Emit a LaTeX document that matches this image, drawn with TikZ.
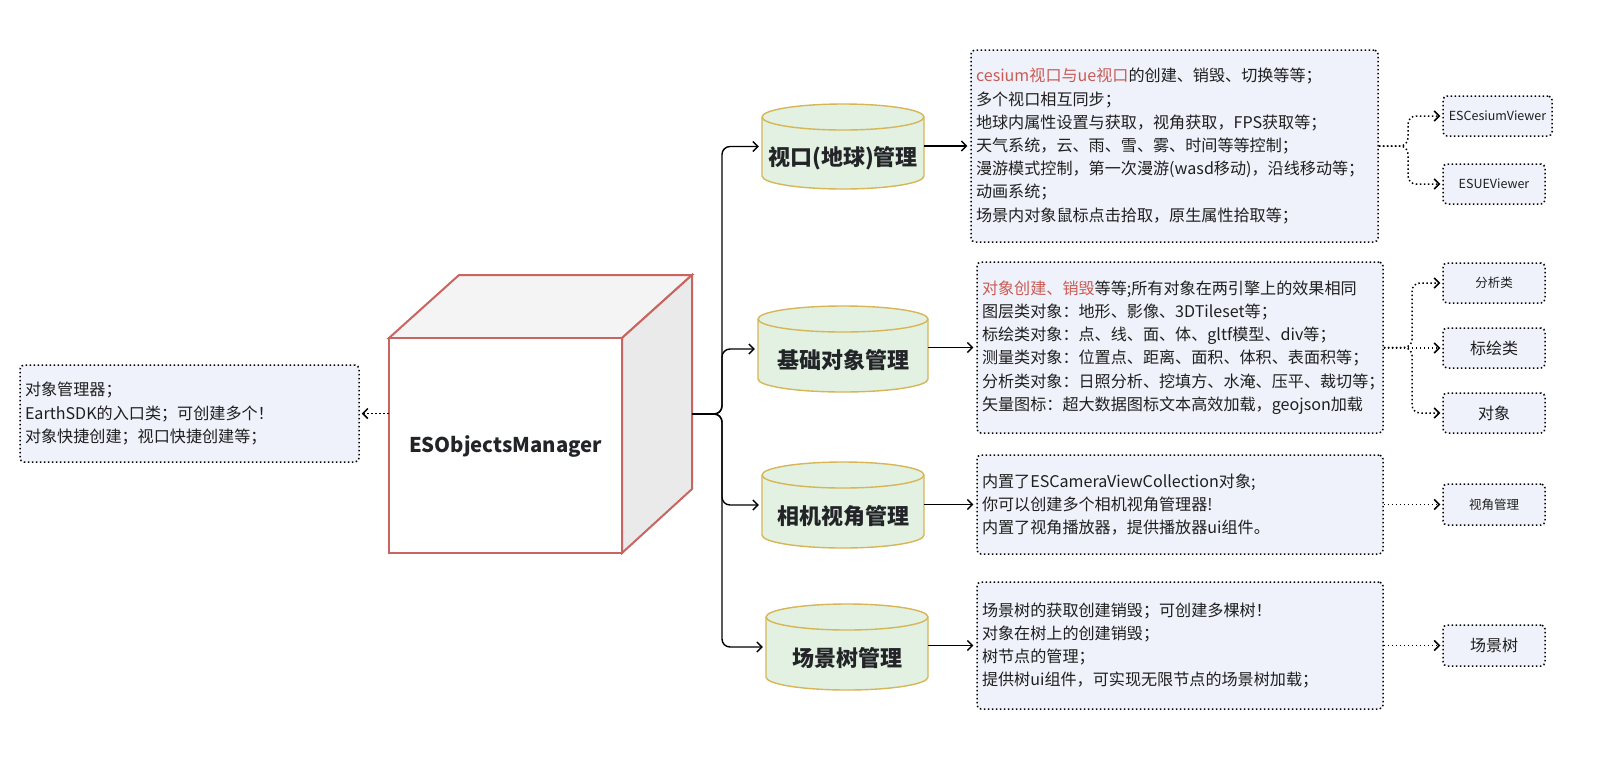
\documentclass[tikz,border=0pt]{standalone}
\usepackage{fontspec}
\setmainfont{Noto Sans CJK SC}
\usetikzlibrary{arrows.meta,calc}
\definecolor{boxfill}{HTML}{EFF2FA}
\definecolor{cylfill}{HTML}{E2F1E1}
\definecolor{cylstroke}{HTML}{D6B656}
\definecolor{redtxt}{HTML}{C95B55}
\definecolor{cubestroke}{HTML}{C96561}
\definecolor{cubetop}{HTML}{F4F4F4}
\definecolor{cubeside}{HTML}{EAEAEA}
\definecolor{txtcol}{HTML}{1F1F1F}
\definecolor{titcol}{HTML}{222428}
\newcommand\cyldraw[4]{%
  \pgfmathsetmacro\rxx{(#3-#1)/2}%
  \path[draw=cylstroke, fill=cylfill, line width=1.4pt] (#1,#2+13) -- (#1,#4-13)
     arc[start angle=180,end angle=360,x radius=\rxx pt,y radius=13pt] -- (#3,#2+13)
     arc[start angle=0,end angle=180,x radius=\rxx pt,y radius=13pt] -- cycle;
  \draw[cylstroke, line width=1.4pt] (#1,#2+13) arc[start angle=180,end angle=360,x radius=\rxx pt,y radius=13pt];
}
\begin{document}
\begin{tikzpicture}[x=1pt,y=-1pt,
  txt/.style={font=\fontsize{16.1}{23.2}\selectfont, text=txtcol},
  tbox/.style={draw=black, line width=1.5pt, dash pattern=on 1.5pt off 2.5pt, rounded corners=4pt, fill=boxfill, inner xsep=5pt, inner ysep=0pt, align=left, txt},
  sbox/.style={draw=black, line width=1.5pt, dash pattern=on 1.5pt off 2.5pt, rounded corners=4pt, fill=boxfill, inner sep=0pt, minimum width=102pt, minimum height=40pt, text=txtcol},
  smallf/.style={font=\fontsize{12.5}{15}\selectfont},
  bigf/.style={font=\fontsize{16}{18}\selectfont},
  title/.style={font=\fontsize{20.3}{24}\selectfont\bfseries, text=titcol},
  cyltitle/.style={font=\fontsize{22}{26}\selectfont\bfseries, text=titcol, inner sep=0pt},
  arr/.style={line width=1.4pt, -{Straight Barb[length=5pt,width=10pt]}, rounded corners=8pt, shorten >=3pt},
  darr/.style={line width=1.5pt, dash pattern=on 1.5pt off 2.5pt, -{Straight Barb[length=5pt,width=10pt]}, rounded corners=8pt, shorten >=2pt},
]
\useasboundingbox (0,0) rectangle (1605,769);

% ---------- cube ----------
\node[minimum width=303pt, minimum height=278pt, inner sep=0pt] (cube) at (540.5,414) {};
\draw[cubestroke, line width=2pt, fill=cubetop, line join=miter] (389,338) -- (459,275) -- (692,275) -- (622,338) -- cycle;
\draw[cubestroke, line width=2pt, fill=cubeside] (622,338) -- (692,275) -- (692,489) -- (622,553) -- cycle;
\draw[cubestroke, line width=2pt, fill=white] (389,338) rectangle (622,553);
\node[title] (cubetitle) at (505.5,446.5) {ESObjectsManager};

% ---------- left box ----------
\node[tbox, text width=329pt, minimum height=97pt] (lbox) at (189.5,413.5)
  {对象管理器；\\EarthSDK的入口类；可创建多个！\\对象快捷创建；视口快捷创建等；};

% ---------- cylinders ----------
\cyldraw{762}{104}{924}{189}
\cyldraw{758}{306}{928}{392}
\cyldraw{762}{462}{924}{548}
\cyldraw{766}{604}{928}{690}
\node[cyltitle, minimum width=162pt, minimum height=85pt] (c1) at (843,146.5) {\raisebox{-19pt}[0pt][0pt]{视口(地球)管理}};
\node[cyltitle, minimum width=170pt, minimum height=86pt] (c2) at (843,349) {\raisebox{-19pt}[0pt][0pt]{基础对象管理}};
\node[cyltitle, minimum width=162pt, minimum height=86pt] (c3) at (843,505) {\raisebox{-19pt}[0pt][0pt]{相机视角管理}};
\node[cyltitle, minimum width=162pt, minimum height=86pt] (c4) at (847,647) {\raisebox{-19pt}[0pt][0pt]{场景树管理}};

% ---------- text boxes ----------
\node[tbox, text width=397pt, minimum height=192pt] (b1) at (1174.5,146) {%
\textcolor{redtxt}{cesium视口与ue视口}的创建、销毁、切换等等；\\
多个视口相互同步；\\
地球内属性设置与获取，视角获取，FPS获取等；\\
天气系统，云、雨、雪、雾、时间等等控制；\\
漫游模式控制，第一次漫游(wasd移动)，沿线移动等；\\
动画系统；\\
场景内对象鼠标点击拾取，原生属性拾取等；};
\node[tbox, text width=396pt, minimum height=171pt] (b2) at (1180,347.5) {%
\textcolor{redtxt}{对象创建、销毁}等等;所有对象在两引擎上的效果相同\\
图层类对象：地形、影像、3DTileset等；\\
标绘类对象：点、线、面、体、gltf模型、div等；\\
测量类对象：位置点、距离、面积、体积、表面积等；\\
分析类对象：日照分析、挖填方、水淹、压平、裁切等；\\
矢量图标：超大数据图标文本高效加载，geojson加载};
\node[tbox, text width=396pt, minimum height=99pt] (b3) at (1180,504.5) {%
内置了ESCameraViewCollection对象;\\
你可以创建多个相机视角管理器!\\
内置了视角播放器，提供播放器ui组件。};
\node[tbox, text width=396pt, minimum height=127pt] (b4) at (1180,645.5) {%
场景树的获取创建销毁；可创建多棵树！\\
对象在树上的创建销毁；\\
树节点的管理；\\
提供树ui组件，可实现无限节点的场景树加载；};

% ---------- small boxes ----------
\node[sbox, smallf, minimum width=109pt] (e1) at (1497.5,116) {ESCesiumViewer};
\node[sbox, smallf] (e2) at (1494,184) {ESUEViewer};
\node[sbox, smallf] (f1) at (1494,283) {分析类};
\node[sbox, bigf] (f2) at (1494,348) {标绘类};
\node[sbox, bigf] (f3) at (1494,413) {对象};
\node[sbox, smallf, minimum height=41pt] (g1) at (1494,504.5) {视角管理};
\node[sbox, bigf, minimum height=41pt] (h1) at (1494,645.5) {场景树};

% ---------- connectors ----------
\coordinate (bus) at (722,414);
\coordinate (busA) at (1408,146);
\coordinate (busB) at (1412,348);
\draw[darr] (cube.west |- lbox.east) -- (lbox.east);
\draw[arr] (cube.east) -| (bus |- c1.west) -- (c1.west);
\draw[arr] (cube.east) -| (bus |- c2.west) -- (c2.west);
\draw[arr] (cube.east) -| (bus |- c3.west) -- (c3.west);
\draw[arr] (cube.east) -| (bus |- c4.west) -- (c4.west);
\draw[arr] (c1.east |- b1.west) -- (b1.west);
\draw[arr] (c2.east |- b2.west) -- (b2.west);
\draw[arr] (c3.east |- b3.west) -- (b3.west);
\draw[arr] (c4.east |- b4.west) -- (b4.west);
\draw[darr] (b1.east) -| (busA |- e1.west) -- (e1.west);
\draw[darr] (b1.east) -| (busA |- e2.west) -- (e2.west);
\draw[darr] (b2.east) -| (busB |- f1.west) -- (f1.west);
\draw[darr] (b2.east |- f2.west) -- (f2.west);
\draw[darr] (b2.east) -| (busB |- f3.west) -- (f3.west);
\draw[darr] (b3.east |- g1.west) -- (g1.west);
\draw[darr] (b4.east |- h1.west) -- (h1.west);
\end{tikzpicture}
\end{document}
